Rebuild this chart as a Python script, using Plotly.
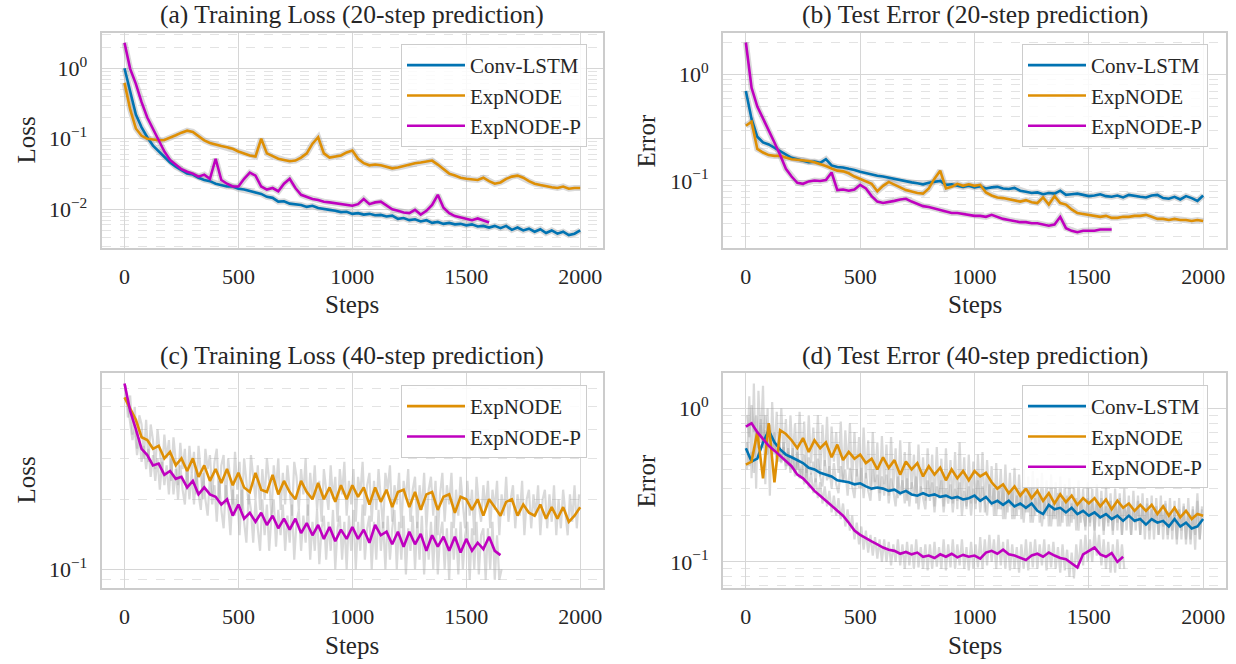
import math
import plotly.graph_objects as go

# training steps shared by the smoothed curves; raw (noisy) logs are denser
STEPS = list(range(0, 2001, 25))
RAW_STEPS = list(range(5, 2000, 10))

SERIES = ["Conv-LSTM", "ExpNODE", "ExpNODE-P"]
COLORS = {"Conv-LSTM": "#0173b2", "ExpNODE": "#de8f05", "ExpNODE-P": "#bf00bf"}
X_TICKS = [0, 500, 1000, 1500, 2000]

# (a) training loss, 20-step prediction
a_conv = [1.0, 0.45, 0.22, 0.145, 0.105, 0.08, 0.066, 0.055, 0.046, 0.04,
          0.036, 0.032, 0.031, 0.028, 0.026, 0.025, 0.023, 0.022, 0.021, 0.021,
          0.0195, 0.019, 0.018, 0.017, 0.0165, 0.015, 0.0145, 0.0128, 0.013, 0.012,
          0.0118, 0.0115, 0.0108, 0.0112, 0.0104, 0.0102, 0.0098, 0.0095, 0.0091, 0.0092,
          0.0086, 0.0088, 0.0084, 0.0086, 0.0082, 0.0083, 0.0079, 0.0081, 0.0073, 0.0075,
          0.007, 0.0072, 0.0067, 0.007, 0.0064, 0.0066, 0.0062, 0.0064, 0.0061, 0.0062,
          0.0059, 0.0061, 0.0057, 0.0058, 0.0055, 0.0058, 0.0054, 0.0058, 0.0051, 0.0055,
          0.005, 0.0053, 0.0048, 0.0052, 0.0046, 0.005, 0.0045, 0.0048, 0.0043, 0.0045,
          0.005]
a_exp = [0.62, 0.26, 0.14, 0.11, 0.1, 0.097, 0.095, 0.096, 0.103, 0.112,
         0.122, 0.13, 0.125, 0.108, 0.095, 0.087, 0.082, 0.079, 0.076, 0.072,
         0.066, 0.062, 0.058, 0.056, 0.1, 0.062, 0.056, 0.052, 0.05, 0.048,
         0.049, 0.054, 0.062, 0.085, 0.105, 0.062, 0.054, 0.056, 0.058, 0.064,
         0.068, 0.052, 0.045, 0.042, 0.043, 0.042, 0.04, 0.038, 0.039, 0.041,
         0.043, 0.045, 0.046, 0.047, 0.049, 0.043, 0.037, 0.032, 0.03, 0.028,
         0.027, 0.0265, 0.026, 0.028, 0.025, 0.023, 0.024, 0.027, 0.029, 0.03,
         0.028, 0.025, 0.023, 0.022, 0.021, 0.0205, 0.02, 0.021, 0.0195, 0.02,
         0.02]
a_expp = [2.3, 0.98, 0.6, 0.33, 0.2, 0.14, 0.095, 0.066, 0.05, 0.043,
          0.037, 0.034, 0.032, 0.029, 0.031, 0.027, 0.052, 0.026, 0.023, 0.021,
          0.021, 0.027, 0.033, 0.03, 0.021, 0.019, 0.02, 0.018, 0.023, 0.027,
          0.02, 0.016, 0.0148, 0.014, 0.0135, 0.0128, 0.0125, 0.0122, 0.0118, 0.0115,
          0.0112, 0.0118, 0.014, 0.0118, 0.0125, 0.0128, 0.0112, 0.01, 0.0095, 0.009,
          0.0088, 0.0098, 0.0084, 0.0095, 0.0115, 0.016, 0.0105, 0.0088, 0.008, 0.0076,
          0.0073, 0.007, 0.0074, 0.0069, 0.0065]

# (b) test error, 20-step prediction
b_conv = [0.7, 0.38, 0.26, 0.23, 0.22, 0.205, 0.19, 0.175, 0.165, 0.16,
          0.155, 0.15, 0.152, 0.148, 0.16, 0.14, 0.135, 0.134, 0.13, 0.127,
          0.122, 0.118, 0.116, 0.112, 0.11, 0.107, 0.105, 0.101, 0.099, 0.097,
          0.095, 0.093, 0.096, 0.098, 0.1, 0.092, 0.093, 0.09, 0.088, 0.09,
          0.087, 0.089, 0.085, 0.087, 0.088, 0.085, 0.084, 0.086, 0.081, 0.079,
          0.077, 0.078, 0.075, 0.077, 0.076, 0.081, 0.074, 0.075, 0.076, 0.074,
          0.072, 0.073, 0.075, 0.072, 0.071, 0.073, 0.07, 0.074, 0.072, 0.071,
          0.07, 0.073, 0.074, 0.069, 0.068, 0.071, 0.067, 0.072, 0.069, 0.065,
          0.073]
b_exp = [0.33, 0.36, 0.2, 0.185, 0.175, 0.172, 0.172, 0.165, 0.16, 0.158,
         0.157, 0.154, 0.15, 0.145, 0.138, 0.131, 0.125, 0.123, 0.118, 0.11,
         0.104, 0.1, 0.094, 0.08, 0.09, 0.098, 0.093, 0.087, 0.082, 0.079,
         0.077, 0.076, 0.085, 0.105, 0.125, 0.085, 0.088, 0.094, 0.09, 0.093,
         0.09, 0.092, 0.078, 0.073, 0.07, 0.069, 0.067, 0.066, 0.064, 0.066,
         0.063, 0.062, 0.07, 0.06, 0.072, 0.062, 0.06, 0.054, 0.05, 0.049,
         0.048, 0.047, 0.046, 0.047, 0.045, 0.045, 0.046, 0.046, 0.047, 0.047,
         0.048, 0.046, 0.044, 0.044, 0.043, 0.044, 0.043, 0.043, 0.042, 0.043,
         0.042]
b_expp = [2.0, 0.75, 0.5, 0.39, 0.3, 0.23, 0.175, 0.13, 0.11, 0.096,
          0.094, 0.099, 0.101, 0.1, 0.102, 0.12, 0.082, 0.083, 0.081, 0.083,
          0.092, 0.085, 0.072, 0.064, 0.062, 0.064, 0.065, 0.067, 0.068, 0.064,
          0.061, 0.058, 0.057, 0.055, 0.053, 0.052, 0.05, 0.05, 0.049, 0.048,
          0.047, 0.047, 0.046, 0.048, 0.046, 0.044, 0.043, 0.042, 0.041, 0.041,
          0.04, 0.04, 0.039, 0.038, 0.039, 0.046, 0.036, 0.034, 0.033, 0.034,
          0.034, 0.034, 0.035, 0.035, 0.035]

# (c) training loss, 40-step prediction
c_exp = [0.55, 0.49, 0.44, 0.37, 0.36, 0.33, 0.34, 0.3, 0.32, 0.28,
         0.3, 0.265, 0.3, 0.25, 0.28, 0.24, 0.27, 0.235, 0.27, 0.23,
         0.26, 0.225, 0.215, 0.26, 0.22, 0.215, 0.255, 0.21, 0.24, 0.215,
         0.2, 0.24, 0.215, 0.2, 0.235, 0.2, 0.225, 0.195, 0.23, 0.2,
         0.23, 0.205, 0.225, 0.19, 0.225, 0.195, 0.22, 0.185, 0.215, 0.22,
         0.185, 0.215, 0.18, 0.21, 0.215, 0.18, 0.205, 0.21, 0.175, 0.205,
         0.2, 0.18, 0.2, 0.17, 0.2, 0.185, 0.17, 0.195, 0.2, 0.17,
         0.19, 0.175, 0.17, 0.19, 0.165, 0.185, 0.165, 0.185, 0.16, 0.17,
         0.185]
c_expp = [0.63, 0.48, 0.4, 0.33, 0.31, 0.28, 0.285, 0.255, 0.265, 0.245,
          0.25, 0.225, 0.24, 0.21, 0.225, 0.21, 0.205, 0.19, 0.2, 0.17,
          0.19, 0.165, 0.175, 0.16, 0.175, 0.155, 0.17, 0.15, 0.165, 0.148,
          0.165, 0.143, 0.158, 0.14, 0.155, 0.135, 0.152, 0.132, 0.148, 0.135,
          0.152, 0.135, 0.148, 0.13, 0.155, 0.14, 0.145, 0.128, 0.145, 0.125,
          0.145, 0.128, 0.142, 0.12, 0.14, 0.125, 0.138, 0.12, 0.138, 0.118,
          0.135, 0.12, 0.13, 0.122, 0.138, 0.12, 0.115]
c_exp_raw = [0.62, 0.45, 0.56, 0.38, 0.5, 0.33, 0.46, 0.42, 0.3, 0.44,
             0.29, 0.42, 0.36, 0.27, 0.4, 0.31, 0.26, 0.38, 0.3, 0.36,
             0.24, 0.37, 0.3, 0.23, 0.35, 0.27, 0.33, 0.22, 0.34, 0.26,
             0.32, 0.21, 0.34, 0.25, 0.2, 0.33, 0.27, 0.31, 0.21, 0.29,
             0.33, 0.2, 0.28, 0.31, 0.19, 0.3, 0.24, 0.19, 0.32, 0.22,
             0.29, 0.18, 0.3, 0.23, 0.19, 0.31, 0.25, 0.2, 0.28, 0.18,
             0.27, 0.2, 0.3, 0.24, 0.17, 0.28, 0.22, 0.3, 0.18, 0.26,
             0.19, 0.28, 0.22, 0.17, 0.29, 0.25, 0.18, 0.27, 0.21, 0.3,
             0.17, 0.26, 0.2, 0.28, 0.18, 0.24, 0.16, 0.27, 0.22, 0.18,
             0.28, 0.2, 0.25, 0.16, 0.27, 0.21, 0.29, 0.17, 0.24, 0.19,
             0.27, 0.16, 0.25, 0.21, 0.29, 0.17, 0.23, 0.26, 0.16, 0.24,
             0.18, 0.27, 0.2, 0.15, 0.26, 0.22, 0.28, 0.16, 0.23, 0.19,
             0.26, 0.15, 0.24, 0.2, 0.27, 0.16, 0.22, 0.25, 0.15, 0.23,
             0.18, 0.26, 0.15, 0.22, 0.25, 0.17, 0.24, 0.14, 0.21, 0.26,
             0.16, 0.23, 0.19, 0.26, 0.15, 0.22, 0.17, 0.25, 0.19, 0.15,
             0.24, 0.17, 0.22, 0.14, 0.25, 0.19, 0.16, 0.23, 0.18, 0.24,
             0.15, 0.22, 0.18, 0.24, 0.14, 0.21, 0.17, 0.25, 0.16, 0.2,
             0.23, 0.15, 0.21, 0.17, 0.24, 0.14, 0.2, 0.22, 0.15, 0.21,
             0.17, 0.23, 0.14, 0.2, 0.22, 0.15, 0.21, 0.16, 0.23, 0.14,
             0.2, 0.15, 0.22, 0.17, 0.14, 0.21, 0.16, 0.23, 0.15, 0.21]
c_expp_raw = [0.6, 0.5, 0.44, 0.36, 0.4, 0.31, 0.37, 0.29, 0.34, 0.27,
              0.33, 0.25, 0.31, 0.24, 0.3, 0.22, 0.29, 0.23, 0.28, 0.21,
              0.3, 0.21, 0.27, 0.2, 0.28, 0.22, 0.19, 0.27, 0.2, 0.26,
              0.19, 0.27, 0.21, 0.18, 0.26, 0.2, 0.17, 0.25, 0.19, 0.23,
              0.16, 0.24, 0.18, 0.15, 0.23, 0.19, 0.14, 0.22, 0.17, 0.21,
              0.14, 0.22, 0.16, 0.13, 0.21, 0.18, 0.13, 0.2, 0.15, 0.12,
              0.2, 0.14, 0.19, 0.12, 0.17, 0.2, 0.125, 0.18, 0.14, 0.19,
              0.12, 0.17, 0.13, 0.19, 0.11, 0.16, 0.18, 0.12, 0.17, 0.13,
              0.19, 0.11, 0.16, 0.12, 0.18, 0.105, 0.15, 0.17, 0.11, 0.16,
              0.12, 0.18, 0.1, 0.15, 0.17, 0.11, 0.16, 0.1, 0.17, 0.12,
              0.18, 0.1, 0.16, 0.12, 0.19, 0.11, 0.15, 0.17, 0.1, 0.16,
              0.11, 0.18, 0.12, 0.16, 0.1, 0.17, 0.11, 0.15, 0.18, 0.1,
              0.16, 0.11, 0.17, 0.095, 0.15, 0.12, 0.17, 0.1, 0.16, 0.11,
              0.17, 0.095, 0.15, 0.11, 0.16, 0.1, 0.17, 0.095, 0.14, 0.16,
              0.1, 0.15, 0.09, 0.16, 0.11, 0.15, 0.095, 0.16, 0.1, 0.14,
              0.16, 0.09, 0.15, 0.1, 0.16, 0.095, 0.14, 0.15, 0.09, 0.15,
              0.1, 0.16, 0.09, 0.14, 0.09, 0.1]

# (d) test error, 40-step prediction
d_conv = [0.55, 0.45, 0.47, 0.6, 0.72, 0.6, 0.54, 0.5, 0.48, 0.46,
          0.44, 0.41, 0.4, 0.38, 0.37, 0.36, 0.34, 0.335, 0.33, 0.32,
          0.325, 0.31, 0.3, 0.305, 0.3, 0.29, 0.295, 0.28, 0.29, 0.275,
          0.27, 0.28, 0.27, 0.275, 0.265, 0.27, 0.26, 0.265, 0.255, 0.26,
          0.27, 0.25, 0.265, 0.24, 0.25, 0.235, 0.25, 0.23, 0.24, 0.225,
          0.24, 0.215, 0.205, 0.235, 0.22, 0.225, 0.21, 0.225, 0.205, 0.215,
          0.2, 0.21, 0.195, 0.205, 0.19, 0.2, 0.185, 0.2, 0.185, 0.19,
          0.175, 0.19, 0.18, 0.185, 0.17, 0.19, 0.17, 0.18, 0.165, 0.17,
          0.19]
d_exp = [0.43, 0.45, 0.7, 0.35, 0.8, 0.33, 0.72, 0.68, 0.62, 0.55,
         0.64, 0.52, 0.62, 0.55, 0.6, 0.48, 0.58, 0.46, 0.52, 0.47,
         0.5, 0.44, 0.47, 0.4, 0.48, 0.41, 0.46, 0.37, 0.45, 0.4,
         0.44, 0.36, 0.42, 0.37, 0.41, 0.34, 0.4, 0.35, 0.39, 0.34,
         0.39, 0.36, 0.38, 0.33, 0.3, 0.32, 0.28, 0.31, 0.27, 0.3,
         0.26, 0.29, 0.25, 0.28, 0.24, 0.275, 0.245, 0.27, 0.235, 0.26,
         0.24, 0.26, 0.23, 0.255, 0.22, 0.25, 0.225, 0.24, 0.215, 0.235,
         0.215, 0.235, 0.205, 0.23, 0.2, 0.225, 0.195, 0.215, 0.19, 0.205,
         0.2]
d_expp = [0.76, 0.8, 0.7, 0.63, 0.57, 0.53, 0.49, 0.45, 0.42, 0.37,
          0.35, 0.32, 0.29, 0.27, 0.25, 0.235, 0.215, 0.2, 0.18, 0.16,
          0.15, 0.142, 0.136, 0.13, 0.124, 0.12, 0.118, 0.113, 0.116, 0.112,
          0.115, 0.108, 0.11, 0.106, 0.112, 0.108, 0.113, 0.107, 0.111, 0.108,
          0.11, 0.105, 0.115, 0.118, 0.113, 0.12, 0.112, 0.11, 0.107, 0.103,
          0.11, 0.113, 0.108, 0.115, 0.11, 0.106, 0.104, 0.098, 0.092, 0.112,
          0.118, 0.124, 0.112, 0.108, 0.114, 0.1, 0.108]
d_conv_raw = [0.6, 0.42, 0.52, 0.38, 0.7, 0.55, 0.85, 0.6, 0.9, 0.65,
              0.78, 0.55, 0.7, 0.48, 0.62, 0.45, 0.6, 0.42, 0.55, 0.4,
              0.55, 0.38, 0.52, 0.4, 0.36, 0.5, 0.34, 0.48, 0.37, 0.45,
              0.33, 0.47, 0.36, 0.31, 0.46, 0.34, 0.42, 0.3, 0.44, 0.32,
              0.28, 0.42, 0.33, 0.4, 0.27, 0.41, 0.31, 0.26, 0.4, 0.3,
              0.41, 0.26, 0.38, 0.29, 0.25, 0.4, 0.3, 0.37, 0.25, 0.36,
              0.27, 0.37, 0.24, 0.35, 0.29, 0.23, 0.36, 0.27, 0.34, 0.24,
              0.35, 0.23, 0.33, 0.27, 0.36, 0.22, 0.31, 0.26, 0.22, 0.34,
              0.25, 0.33, 0.21, 0.31, 0.26, 0.34, 0.21, 0.3, 0.24, 0.32,
              0.21, 0.3, 0.25, 0.33, 0.2, 0.29, 0.23, 0.31, 0.2, 0.3,
              0.24, 0.34, 0.21, 0.31, 0.25, 0.2, 0.32, 0.23, 0.3, 0.2,
              0.29, 0.22, 0.31, 0.19, 0.28, 0.23, 0.3, 0.19, 0.27, 0.22,
              0.29, 0.18, 0.27, 0.21, 0.3, 0.18, 0.26, 0.22, 0.28, 0.17,
              0.25, 0.2, 0.27, 0.17, 0.24, 0.19, 0.28, 0.17, 0.25, 0.2,
              0.27, 0.17, 0.24, 0.19, 0.26, 0.16, 0.25, 0.2, 0.17, 0.26,
              0.18, 0.25, 0.16, 0.24, 0.19, 0.26, 0.16, 0.23, 0.18, 0.25,
              0.16, 0.24, 0.18, 0.26, 0.15, 0.23, 0.19, 0.24, 0.15, 0.22,
              0.18, 0.25, 0.15, 0.23, 0.17, 0.24, 0.14, 0.22, 0.18, 0.23,
              0.15, 0.22, 0.17, 0.24, 0.14, 0.21, 0.16, 0.23, 0.14, 0.22,
              0.16, 0.23, 0.14, 0.21, 0.13, 0.22, 0.15, 0.28, 0.14, 0.22]
d_exp_raw = [0.4, 1.2, 0.35, 1.45, 0.3, 1.3, 0.6, 1.4, 0.32, 1.0,
             0.27, 1.1, 0.5, 0.95, 0.45, 1.0, 0.5, 0.85, 0.42, 0.9,
             0.48, 0.8, 0.4, 0.95, 0.45, 0.82, 0.38, 0.9, 0.44, 0.75,
             0.4, 0.9, 0.36, 0.78, 0.42, 0.88, 0.35, 0.76, 0.45, 0.7,
             0.38, 0.82, 0.34, 0.72, 0.4, 0.8, 0.33, 0.7, 0.36, 0.65,
             0.3, 0.75, 0.35, 0.62, 0.29, 0.7, 0.33, 0.6, 0.28, 0.66,
             0.32, 0.58, 0.27, 0.65, 0.3, 0.55, 0.26, 0.62, 0.29, 0.52,
             0.25, 0.6, 0.3, 0.5, 0.24, 0.58, 0.28, 0.48, 0.25, 0.55,
             0.27, 0.5, 0.23, 0.56, 0.26, 0.47, 0.23, 0.55, 0.26, 0.46,
             0.24, 0.52, 0.22, 0.6, 0.25, 0.48, 0.22, 0.5, 0.24, 0.45,
             0.22, 0.5, 0.25, 0.52, 0.21, 0.46, 0.24, 0.42, 0.2, 0.44,
             0.22, 0.4, 0.19, 0.43, 0.21, 0.38, 0.19, 0.41, 0.2, 0.37,
             0.19, 0.4, 0.21, 0.36, 0.18, 0.39, 0.2, 0.35, 0.18, 0.38,
             0.19, 0.34, 0.17, 0.37, 0.19, 0.33, 0.17, 0.36, 0.18, 0.32,
             0.17, 0.35, 0.18, 0.31, 0.16, 0.34, 0.18, 0.3, 0.16, 0.33,
             0.17, 0.3, 0.16, 0.32, 0.17, 0.29, 0.15, 0.31, 0.17, 0.28,
             0.15, 0.3, 0.16, 0.28, 0.15, 0.3, 0.16, 0.27, 0.15, 0.29,
             0.16, 0.27, 0.15, 0.28, 0.14, 0.26, 0.16, 0.27, 0.14, 0.26,
             0.15, 0.27, 0.14, 0.25, 0.15, 0.26, 0.14, 0.25, 0.13, 0.26,
             0.14, 0.24, 0.13, 0.26, 0.14, 0.23, 0.12, 0.25, 0.14, 0.23]
d_expp_raw = [0.9, 0.65, 1.05, 0.7, 0.9, 0.62, 0.78, 0.55, 0.72, 0.5,
              0.66, 0.5, 0.62, 0.46, 0.58, 0.44, 0.56, 0.4, 0.52, 0.38,
              0.5, 0.36, 0.47, 0.35, 0.44, 0.32, 0.42, 0.3, 0.38, 0.28,
              0.35, 0.26, 0.33, 0.24, 0.31, 0.23, 0.29, 0.21, 0.27, 0.2,
              0.26, 0.19, 0.24, 0.17, 0.22, 0.16, 0.2, 0.14, 0.18, 0.13,
              0.17, 0.12, 0.16, 0.115, 0.15, 0.11, 0.145, 0.105, 0.14, 0.1,
              0.14, 0.1, 0.135, 0.095, 0.13, 0.1, 0.14, 0.095, 0.13, 0.09,
              0.135, 0.095, 0.13, 0.09, 0.14, 0.092, 0.125, 0.09, 0.13, 0.088,
              0.13, 0.09, 0.135, 0.093, 0.125, 0.09, 0.14, 0.088, 0.13, 0.092,
              0.14, 0.09, 0.13, 0.095, 0.14, 0.09, 0.125, 0.088, 0.135, 0.09,
              0.13, 0.092, 0.145, 0.09, 0.14, 0.095, 0.15, 0.1, 0.14, 0.09,
              0.15, 0.095, 0.135, 0.09, 0.14, 0.088, 0.13, 0.09, 0.125, 0.085,
              0.13, 0.09, 0.14, 0.088, 0.135, 0.092, 0.14, 0.09, 0.13, 0.095,
              0.14, 0.088, 0.13, 0.092, 0.135, 0.09, 0.125, 0.085, 0.13, 0.088,
              0.12, 0.08, 0.115, 0.078, 0.13, 0.09, 0.14, 0.095, 0.15, 0.1,
              0.14, 0.1, 0.16, 0.11, 0.15, 0.095, 0.14, 0.09, 0.135, 0.085,
              0.13, 0.085, 0.14, 0.09, 0.13, 0.09]

FONT = "Liberation Serif"
INK = "#262626"
GRID = "#d6d6d6"
FRAME = "#cccccc"
GREY = "rgba(160,160,160,0.4)"

W, H = 1236, 664


def fx(px):
    return px / W


def fy(px):
    return 1 - px / H


COL_PX = [(101.7, 603), (723, 1226)]
ROW_PX = [(33, 248), (373, 588)]

panels = [
    dict(title="(a) Training Loss (20-step prediction)", ylabel="Loss", row=0, col=0,
         yrange=[-2.55, 0.5], major=[0.01, 0.1, 1],
         lines={"Conv-LSTM": a_conv, "ExpNODE": a_exp, "ExpNODE-P": a_expp}, raw={},
         legend_at=(401, 44)),
    dict(title="(b) Test Error (20-step prediction)", ylabel="Error", row=0, col=1,
         yrange=[-1.63, 0.39], major=[0.1, 1],
         lines={"Conv-LSTM": b_conv, "ExpNODE": b_exp, "ExpNODE-P": b_expp}, raw={},
         legend_at=(1022, 44)),
    dict(title="(c) Training Loss (40-step prediction)", ylabel="Loss", row=1, col=0,
         yrange=[-1.081, -0.155], major=[0.1],
         lines={"ExpNODE": c_exp, "ExpNODE-P": c_expp},
         raw={"ExpNODE": c_exp_raw, "ExpNODE-P": c_expp_raw},
         legend_at=(401, 385)),
    dict(title="(d) Test Error (40-step prediction)", ylabel="Error", row=1, col=1,
         yrange=[-1.17, 0.23], major=[0.1, 1],
         lines={"Conv-LSTM": d_conv, "ExpNODE": d_exp, "ExpNODE-P": d_expp},
         raw={"Conv-LSTM": d_conv_raw, "ExpNODE": d_exp_raw, "ExpNODE-P": d_expp_raw},
         legend_at=(1022, 385)),
]


def sup_label(v):
    exp = str(round(math.log10(v))).replace("-", "\u2212")
    return "10<sup>" + exp + "</sup>"


fig = go.Figure()
layout = {}
annotations = []

for i, p in enumerate(panels):
    n = "" if i == 0 else str(i + 1)
    xa, ya = "x" + n, "y" + n
    leg = "legend" + n
    px0, px1 = COL_PX[p["col"]]
    top_px, bot_px = ROW_PX[p["row"]]
    x0, x1 = fx(px0), fx(px1)
    y0, y1 = fy(bot_px), fy(top_px)

    # grey layer: raw logs where they exist, otherwise a soft halo of the curve
    for name in SERIES:
        if name in p["raw"]:
            vals = p["raw"][name]
            fig.add_trace(go.Scatter(x=RAW_STEPS[:len(vals)], y=vals, mode="lines",
                                     line=dict(color=GREY, width=2.2), xaxis=xa, yaxis=ya,
                                     showlegend=False, hoverinfo="skip"))
        elif name in p["lines"]:
            vals = p["lines"][name]
            fig.add_trace(go.Scatter(x=STEPS[:len(vals)], y=vals, mode="lines",
                                     line=dict(color=GREY, width=6), xaxis=xa, yaxis=ya,
                                     showlegend=False, hoverinfo="skip"))
    for name in SERIES:
        if name not in p["lines"]:
            continue
        vals = p["lines"][name]
        fig.add_trace(go.Scatter(x=STEPS[:len(vals)], y=vals, mode="lines", name=name,
                                 line=dict(color=COLORS[name], width=2.6),
                                 xaxis=xa, yaxis=ya, legend=leg, legendgroup=name + n))

    lo, hi = p["yrange"]
    minor = []
    for dec in [0.001, 0.01, 0.1, 1]:
        for k in range(2, 10):
            v = round(k * dec, 4)
            if lo < math.log10(v) < hi:
                minor.append(v)

    layout["xaxis" + n] = dict(
        domain=[x0, x1], anchor=ya, range=[-100, 2100], tickvals=X_TICKS,
        ticktext=[str(t) for t in X_TICKS], showgrid=True, gridcolor=GRID, gridwidth=1,
        zeroline=False, showline=True, mirror=True, linecolor=FRAME, linewidth=2,
        ticks="outside", ticklen=0, ticklabelstandoff=8,
        tickfont=dict(family=FONT, size=22, color=INK))
    layout["yaxis" + n] = dict(
        domain=[y0, y1], anchor=xa, type="log", range=[lo, hi], tickvals=p["major"],
        ticktext=[sup_label(v) for v in p["major"]], showgrid=True, gridcolor=GRID,
        gridwidth=1, zeroline=False, showline=True, mirror=True, linecolor=FRAME,
        linewidth=2, ticks="outside", ticklen=0, ticklabelstandoff=8,
        tickfont=dict(family=FONT, size=22, color=INK),
        minor=dict(tickmode="array", tickvals=minor, showgrid=True,
                   gridcolor="#e3e3e3", griddash="dash", gridwidth=1, ticks=""))

    lx, ly = p["legend_at"]
    layout[leg] = dict(x=fx(lx), y=fy(ly), xanchor="left", yanchor="top",
                       bgcolor="rgba(255,255,255,0.85)", bordercolor=FRAME, borderwidth=1,
                       font=dict(family=FONT, size=21, color=INK), traceorder="grouped",
                       tracegroupgap=0, itemwidth=58)

    cx = (x0 + x1) / 2
    annotations.append(dict(text=p["title"], x=cx, y=fy(top_px - 18), xref="paper",
                            yref="paper", showarrow=False, xanchor="center",
                            yanchor="middle", font=dict(family=FONT, size=25.5, color=INK)))
    annotations.append(dict(text="Steps", x=cx, y=fy(bot_px + 57), xref="paper",
                            yref="paper", showarrow=False, xanchor="center",
                            yanchor="middle", font=dict(family=FONT, size=25, color=INK)))
    lab_px = 26 if p["col"] == 0 else 646
    annotations.append(dict(text=p["ylabel"], x=fx(lab_px), y=(y0 + y1) / 2, xref="paper",
                            yref="paper", showarrow=False, textangle=-90,
                            xanchor="center", yanchor="middle",
                            font=dict(family=FONT, size=25, color=INK)))

fig.update_layout(**layout)
fig.update_layout(width=W, height=H, margin=dict(l=0, r=0, t=0, b=0),
                  paper_bgcolor="white", plot_bgcolor="white",
                  font=dict(family=FONT, color=INK), annotations=annotations)

# the page body has a default 8px margin; drop it so the figure fills the window
fig.write_html("out.html", config={"displayModeBar": False},
               post_script="document.body.style.margin = '0';")
